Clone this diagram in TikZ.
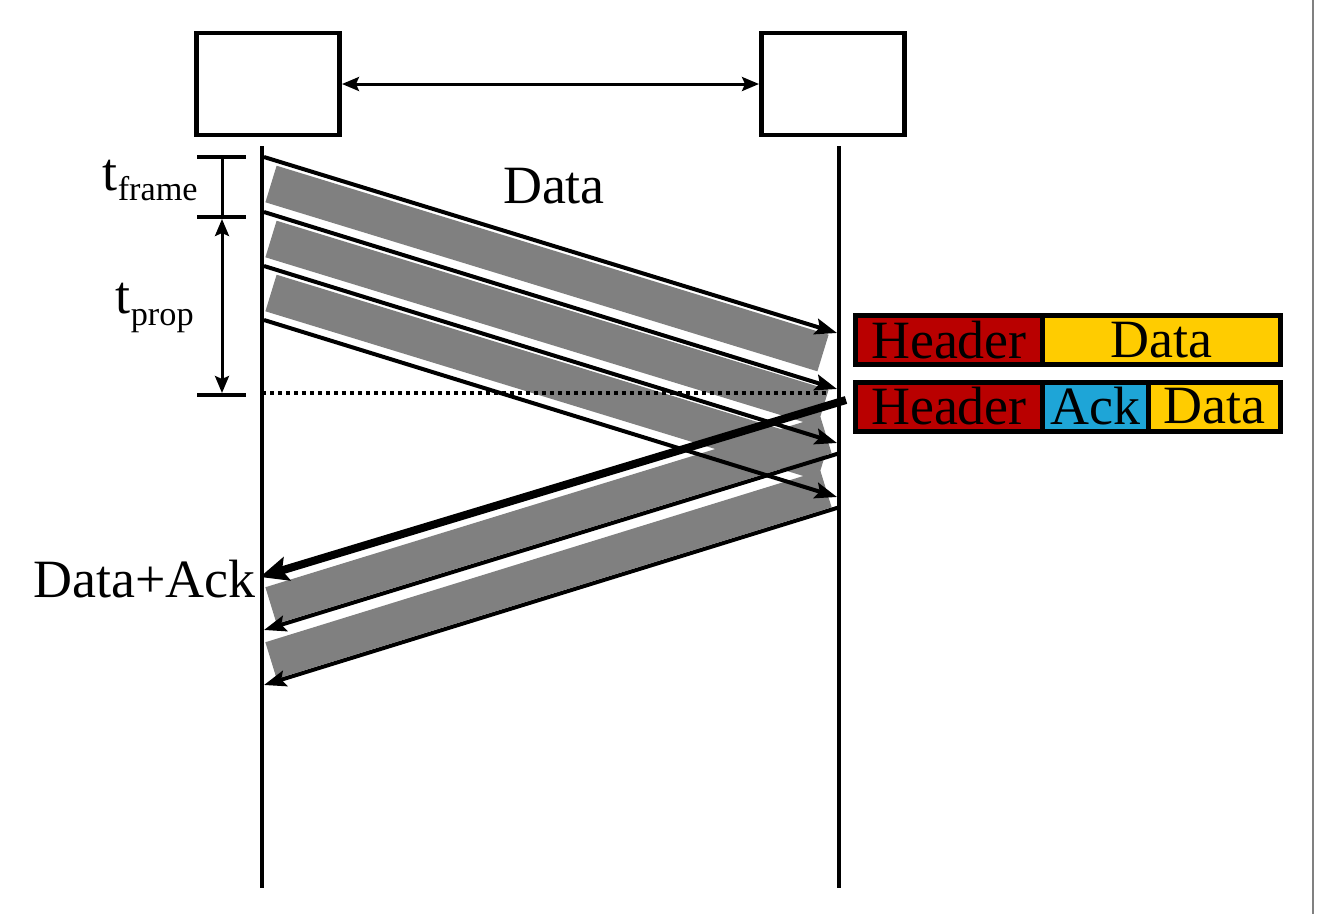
\documentclass[tikz,border=0pt]{standalone}
\usepackage{fontspec}
\setmainfont{Liberation Serif}
\usetikzlibrary{positioning,arrows.meta}

\definecolor{hdrred}{RGB}{185,0,0}
\definecolor{dataylw}{RGB}{255,204,0}
\definecolor{ackblue}{RGB}{30,165,215}
\definecolor{bandgray}{RGB}{128,128,128}
\newcommand{\labfont}{\rmfamily\fontsize{30.7}{36}\selectfont}
\newcommand{\subfont}{\rmfamily\fontsize{19.5}{22}\selectfont}

\begin{document}
\begin{tikzpicture}[
    x=0.02cm, y=-0.02cm,
    station/.style={draw,line width=0.09cm,minimum width=2.87cm,minimum height=2.04cm},
    life/.style={line width=0.08cm},
    tick/.style={line width=0.08cm},
    link/.style={line width=0.06cm,{Stealth[length=0.34cm,width=0.28cm,inset=0.06cm]}-{Stealth[length=0.34cm,width=0.28cm,inset=0.06cm]}},
    fwd/.style={line width=0.08cm,-{Stealth[length=0.44cm,width=0.32cm,inset=0.08cm]}},
    ack/.style={line width=0.16cm,-{Stealth[length=0.56cm,width=0.48cm,inset=0.1cm]}},
    band/.style={line width=0.765cm,draw=bandgray},
    cell/.style={draw,line width=0.1cm,inner sep=0pt,outer sep=0pt,minimum height=0.98cm,font=\labfont},
    lab/.style={font=\labfont,inner sep=0pt}
]
\useasboundingbox (0,0) rectangle (1319,914);

% stations
\node[station] (sender) at (268,84) {};
\node[station] (receiver) at (833,84) {};
\draw[link] (sender) -- (receiver);

% time lines
\coordinate (ltop) at (262,146);
\coordinate (lbot) at (262,888);
\coordinate (rtop) at (839,146);
\coordinate (rbot) at (839,888);

% frames on the wire
\draw[band] (271,184) -- (823,353);
\draw[band] (271,239) -- (823,408);
\draw[band] (271,293) -- (823,462);
\draw[band] (271,605.5) -- (826,435);
\draw[band] (271,660.5) -- (826,489);

\draw[life] (ltop) -- (lbot);
\draw[life] (rtop) -- (rbot);

% timing marks
\coordinate (m1) at (197,157);
\coordinate (m2) at (197,217);
\coordinate (m3) at (197,395);
\draw[tick] (m1) -- ++(49,0);
\draw[tick] (m2) -- ++(49,0);
\draw[tick] (m3) -- ++(49,0);
\draw[line width=0.06cm] (222,157) -- (222,217);
\draw[link] (222,219) -- (222,393);
\draw[line width=0.07cm,dash pattern=on 0.08cm off 0.08cm] (262,393) -- (828,393);

\node[lab,anchor=base east] (tframe) at (198,190) {t\raisebox{-0.2cm}{\subfont frame}};
\node[lab,anchor=base east] (tprop) at (194,313) {t\raisebox{-0.24cm}{\subfont prop}};
\node[lab,anchor=base] (datalab) at (554,203) {Data};
\node[lab,anchor=base east] (acklab) at (256,597) {Data+Ack};

% data frames
\coordinate (s1) at (264,157);
\coordinate (s2) at (264,212);
\coordinate (s3) at (264,266);
\coordinate (s4) at (264,320);
\coordinate (r1) at (837,333);
\coordinate (r2) at (837,389);
\coordinate (r3) at (837,443);
\coordinate (r4) at (837,497);
\draw[fwd] (s1) -- (r1);
\draw[fwd] (s2) -- (r2);
\draw[fwd] (s3) -- (r3);
\draw[fwd] (s4) -- (r4);

% return frames
\coordinate (r0) at (846,400);
\coordinate (r5) at (840,453);
\coordinate (r6) at (840,507);
\coordinate (s0) at (260,577);
\coordinate (s5) at (264,630);
\coordinate (s6) at (264,685);
\draw[fwd] (r5) -- (s5);
\draw[fwd] (r6) -- (s6);
\draw[ack] (r0) -- (s0);

% frame formats
\node[cell,fill=hdrred,minimum width=3.74cm] (hdr1) at (949,340) {Header};
\node[cell,fill=dataylw,minimum width=4.76cm,right=0pt of hdr1] (dat1) {Data};
\node[cell,fill=hdrred,minimum width=3.74cm] (hdr2) at (949,406.5) {Header};
\node[cell,fill=ackblue,minimum width=2.13cm,right=0pt of hdr2] (ack2) {Ack};
\node[cell,fill=dataylw,minimum width=2.63cm,right=0pt of ack2] (dat2) {Data};

\draw[line width=0.04cm,gray] (1313,0) -- (1313,914);
\end{tikzpicture}
\end{document}
